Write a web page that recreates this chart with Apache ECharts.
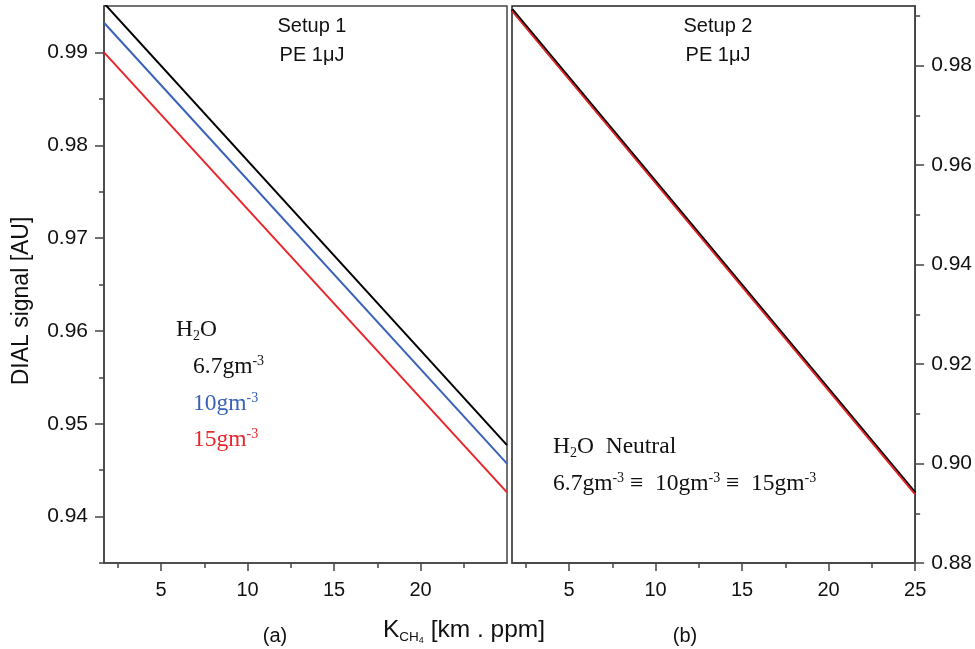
<!DOCTYPE html>
<html>
<head>
<meta charset="utf-8">
<script src="https://cdn.jsdelivr.net/npm/echarts@6/dist/echarts.min.js"></script>
<style>html,body{margin:0;padding:0;background:#fff}#chart{width:975px;height:649px}</style>
</head>
<body>
<div id="chart"></div>
<script>
// panel (a): K_CH4 end points and DIAL signal
var kA = [1.7, 25];
var black67 = [0.9953, 0.9477];
var blue10 = [0.9932, 0.9457];
var red15 = [0.9900, 0.9426];
// panel (b): all three humidities overlap
var kB = [1.7, 25];
var neutralBlack = [0.9913, 0.8941];
var neutralRed = [0.9910, 0.8938];

// tick labels
var xMajorA = [5, 10, 15, 20];
var xMajorB = [5, 10, 15, 20, 25];
var xMinor = [2.5, 7.5, 12.5, 17.5, 22.5];
var yMajorA = [0.94, 0.95, 0.96, 0.97, 0.98, 0.99];
var yMinorA = [0.935, 0.945, 0.955, 0.965, 0.975, 0.985];
var yMajorB = [0.88, 0.90, 0.92, 0.94, 0.96, 0.98];
var yMinorB = [0.89, 0.91, 0.93, 0.95, 0.97, 0.99];

var axisCol = '#444';
var sans = 'Arial, "Liberation Sans", sans-serif';
var serif = '"Times New Roman", "Liberation Serif", serif';

function zip(xs, ys) {
  return xs.map(function (x, i) { return [x, ys[i]]; });
}

function xAxisPair(grid, major) {
  return [{
    type: 'value', gridIndex: grid, position: 'bottom', min: 1.7, max: 25,
    axisLine: { lineStyle: { color: axisCol, width: 1.5 } },
    axisTick: { customValues: major, length: 8, lineStyle: { color: axisCol, width: 1.5 } },
    axisLabel: { customValues: major, color: '#111', fontSize: 20, fontFamily: sans, margin: 17 },
    splitLine: { show: false }
  }, {
    type: 'value', gridIndex: grid, position: 'bottom', min: 1.7, max: 25,
    axisLine: { show: false },
    axisTick: { customValues: xMinor, length: 5, lineStyle: { color: axisCol, width: 1.5 } },
    axisLabel: { show: false },
    splitLine: { show: false }
  }];
}

function yAxisPair(grid, pos, min, max, major, minor) {
  return [{
    type: 'value', gridIndex: grid, position: pos, min: min, max: max,
    axisLine: { show: true, lineStyle: { color: axisCol, width: 1.5 } },
    axisTick: { show: true, customValues: major, length: 9, lineStyle: { color: axisCol, width: 1.5 } },
    axisLabel: {
      customValues: major, color: '#111', fontSize: 21, fontFamily: sans, margin: 16,
      formatter: function (v) { return v.toFixed(2); }
    },
    splitLine: { show: false }
  }, {
    type: 'value', gridIndex: grid, position: pos, min: min, max: max,
    axisLine: { show: false },
    axisTick: { show: true, customValues: minor, length: 5, lineStyle: { color: axisCol, width: 1.5 } },
    axisLabel: { show: false },
    splitLine: { show: false }
  }];
}

function line(name, x, y, col, w, xi, yi) {
  return {
    name: name, type: 'line', data: zip(x, y), xAxisIndex: xi, yAxisIndex: yi,
    showSymbol: false, symbol: 'none', silent: true,
    lineStyle: { color: col, width: w }
  };
}

function txt(x, y, rich, text, extra) {
  var style = Object.assign({
    x: x, y: y, text: text, rich: rich, fill: '#111',
    fontFamily: serif, fontSize: 23.5, verticalAlign: 'middle'
  }, extra || {});
  return { type: 'text', style: style };
}

var supRich = {
  sup: { fontSize: 14, fontFamily: serif, padding: [0, 0, 12, 0] },
  sub: { fontSize: 14, fontFamily: serif, padding: [12, 0, 0, 0] }
};

var chart = echarts.init(document.getElementById('chart'));
chart.setOption({
  animation: false,
  backgroundColor: '#fff',
  grid: [
    { left: 104, top: 6, width: 403, height: 557, show: true, borderColor: axisCol, borderWidth: 1.5 },
    { left: 512, top: 6, width: 404, height: 557, show: true, borderColor: '#222', borderWidth: 1.5 }
  ],
  xAxis: xAxisPair(0, xMajorA).concat(xAxisPair(1, xMajorB)),
  yAxis: yAxisPair(0, 'left', 0.935, 0.995, yMajorA, yMinorA)
    .concat(yAxisPair(1, 'right', 0.88, 0.992, yMajorB, yMinorB)),
  series: [
    line('6.7gm-3', kA, black67, '#000', 2, 0, 0),
    line('10gm-3', kA, blue10, '#3a62b8', 2, 0, 0),
    line('15gm-3', kA, red15, '#e8262b', 2, 0, 0),
    line('neutral black', kB, neutralBlack, '#000', 3, 2, 2),
    line('neutral red', kB, neutralRed, '#e8262b', 1.8, 2, 2)
  ],
  graphic: [
    txt(312, 26, null, 'Setup 1', { fontFamily: sans, fontSize: 20, align: 'center' }),
    txt(312, 55, null, 'PE 1\u03bcJ', { fontFamily: sans, fontSize: 20, align: 'center' }),
    txt(718, 26, null, 'Setup 2', { fontFamily: sans, fontSize: 20, align: 'center' }),
    txt(718, 55, null, 'PE 1\u03bcJ', { fontFamily: sans, fontSize: 20, align: 'center' }),
    txt(176, 330, supRich, 'H{sub|2}O'),
    txt(193, 367, supRich, '6.7gm{sup|-3}'),
    txt(193, 404, supRich, '10gm{sup|-3}', { fill: '#3a62b8' }),
    txt(193, 440, supRich, '15gm{sup|-3}', { fill: '#e8262b' }),
    txt(553, 447, supRich, 'H{sub|2}O  Neutral'),
    txt(553, 484, supRich, '6.7gm{sup|-3} \u2261  10gm{sup|-3} \u2261  15gm{sup|-3}'),
    {
      type: 'text', rotation: Math.PI / 2, x: 22, y: 301,
      style: { text: 'DIAL signal [AU]', fill: '#111', fontFamily: sans, fontSize: 23, align: 'center', verticalAlign: 'middle' }
    },
    txt(383, 630, {
      sub: { fontSize: 13.5, fontFamily: sans, padding: [14, 0, 0, 0] },
      sub2: { fontSize: 9, fontFamily: sans, padding: [22, 0, 0, 0] }
    }, 'K{sub|CH}{sub2|4} [km . ppm]', { fontFamily: sans, fontSize: 24.5 }),
    txt(275, 636, null, '(a)', { fontFamily: sans, fontSize: 20, align: 'center' }),
    txt(685, 636, null, '(b)', { fontFamily: sans, fontSize: 20, align: 'center' })
  ]
});
</script>
</body>
</html>
